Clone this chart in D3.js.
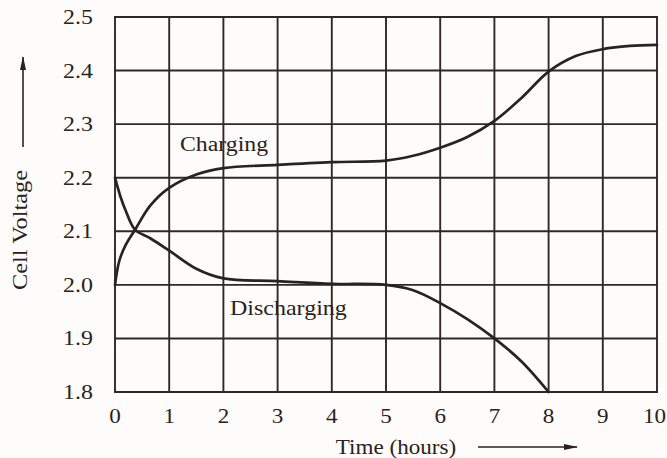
<!DOCTYPE html>
<html><head><meta charset="utf-8">
<script src="https://cdn.jsdelivr.net/npm/d3@7"></script>
<style>body{margin:0;background:#fff}svg{display:block}</style>
</head><body>
<svg id="c" width="667" height="458"></svg>
<script>
const xTicks = [0,1,2,3,4,5,6,7,8,9,10];
const yTicks = [1.8,1.9,2.0,2.1,2.2,2.3,2.4,2.5];
const chargeTime = [0,0.08,0.2,0.37,0.65,1,1.5,2,3,4,5,5.5,6,6.5,7,7.5,8,8.5,9,9.5,10];
const chargeVolt = [2.0,2.045,2.075,2.103,2.148,2.181,2.206,2.218,2.224,2.229,2.232,2.241,2.256,2.276,2.306,2.349,2.398,2.427,2.440,2.446,2.448];
const dischargeTime = [0,0.1,0.2,0.37,0.65,1,1.5,2,3,4,5,5.5,6,6.5,7,7.5,8];
const dischargeVolt = [2.2,2.165,2.138,2.103,2.087,2.064,2.03,2.012,2.007,2.002,2.0,1.99,1.966,1.936,1.9,1.857,1.80];
const xTitle = "Time (hours)";
const yTitle = "Cell Voltage";
const seriesLabels = ["Charging","Discharging"];

const svg = d3.select("#c");
const ink = "#2a2220";
const font = "'Liberation Serif','Times New Roman',serif";
const x = d3.scaleLinear().domain([0,10]).range([115,657]);
const y = d3.scaleLinear().domain([1.8,2.5]).range([392,17]);

svg.append("rect").attr("width",667).attr("height",458).attr("fill","#fefcfb");

// grid
const g = svg.append("g");
g.selectAll("line.v").data(xTicks).join("line")
  .attr("x1",d=>x(d)).attr("x2",d=>x(d)).attr("y1",y(2.5)-1).attr("y2",y(1.8)+1)
  .attr("stroke","#302826").attr("stroke-width",1.9);
g.selectAll("line.h").data(yTicks).join("line")
  .attr("y1",d=>y(d)).attr("y2",d=>y(d)).attr("x1",x(0)-1).attr("x2",x(10)+1)
  .attr("stroke","#302826").attr("stroke-width",1.9);

// tick labels
const tl = svg.append("g").attr("font-family",font).attr("fill",ink).attr("font-size",21);
tl.selectAll("text.y").data(yTicks).join("text")
  .attr("text-anchor","end")
  .attr("transform",d=>`translate(93,${y(d)+7}) scale(1.14,1)`)
  .text(d=>d.toFixed(1));
tl.selectAll("text.x").data(xTicks).join("text")
  .attr("text-anchor",d=>d===10?"end":"middle")
  .attr("transform",d=>`translate(${d===10?666:x(d)},423) scale(1.1,1)`)
  .text(d=>d);

// curves
const line = d3.line().x(d=>x(d[0])).y(d=>y(d[1])).curve(d3.curveCatmullRom.alpha(0.5));
const ch = chargeTime.map((t,i)=>[t,chargeVolt[i]]);
const dc = dischargeTime.map((t,i)=>[t,dischargeVolt[i]]);
[ch,dc].forEach(s=>svg.append("path").attr("d",line(s)).attr("fill","none")
  .attr("stroke",ink).attr("stroke-width",2.7).attr("stroke-linecap","round"));

// series labels
svg.append("text").attr("font-family",font).attr("font-size",20).attr("fill",ink)
  .attr("transform","translate(180,151) scale(1.19,1)").text(seriesLabels[0]);
svg.append("text").attr("font-family",font).attr("font-size",20).attr("fill",ink)
  .attr("transform","translate(230,315) scale(1.2,1)").text(seriesLabels[1]);

// axis titles
svg.append("text").attr("font-family",font).attr("font-size",21).attr("fill",ink)
  .attr("text-anchor","middle")
  .attr("transform","translate(396,454) scale(1.1,1)").text(xTitle);
svg.append("text").attr("font-family",font).attr("font-size",21).attr("fill",ink)
  .attr("text-anchor","middle")
  .attr("transform","translate(27,230) rotate(-90) scale(1.16,1)").text(yTitle);

// arrows
const defs = svg.append("defs");
defs.append("marker").attr("id","ah").attr("viewBox","0 0 14 6").attr("refX",13).attr("refY",3)
  .attr("markerWidth",14).attr("markerHeight",6).attr("markerUnits","userSpaceOnUse")
  .attr("orient","auto").append("path").attr("d","M0,0 L14,3 L0,6 Z").attr("fill",ink);
svg.append("line").attr("x1",478).attr("x2",577).attr("y1",447).attr("y2",447)
  .attr("stroke",ink).attr("stroke-width",1.6).attr("marker-end","url(#ah)");
svg.append("line").attr("x1",23).attr("x2",23).attr("y1",147).attr("y2",57)
  .attr("stroke",ink).attr("stroke-width",1.6).attr("marker-end","url(#ah)");
</script>
</body></html>
